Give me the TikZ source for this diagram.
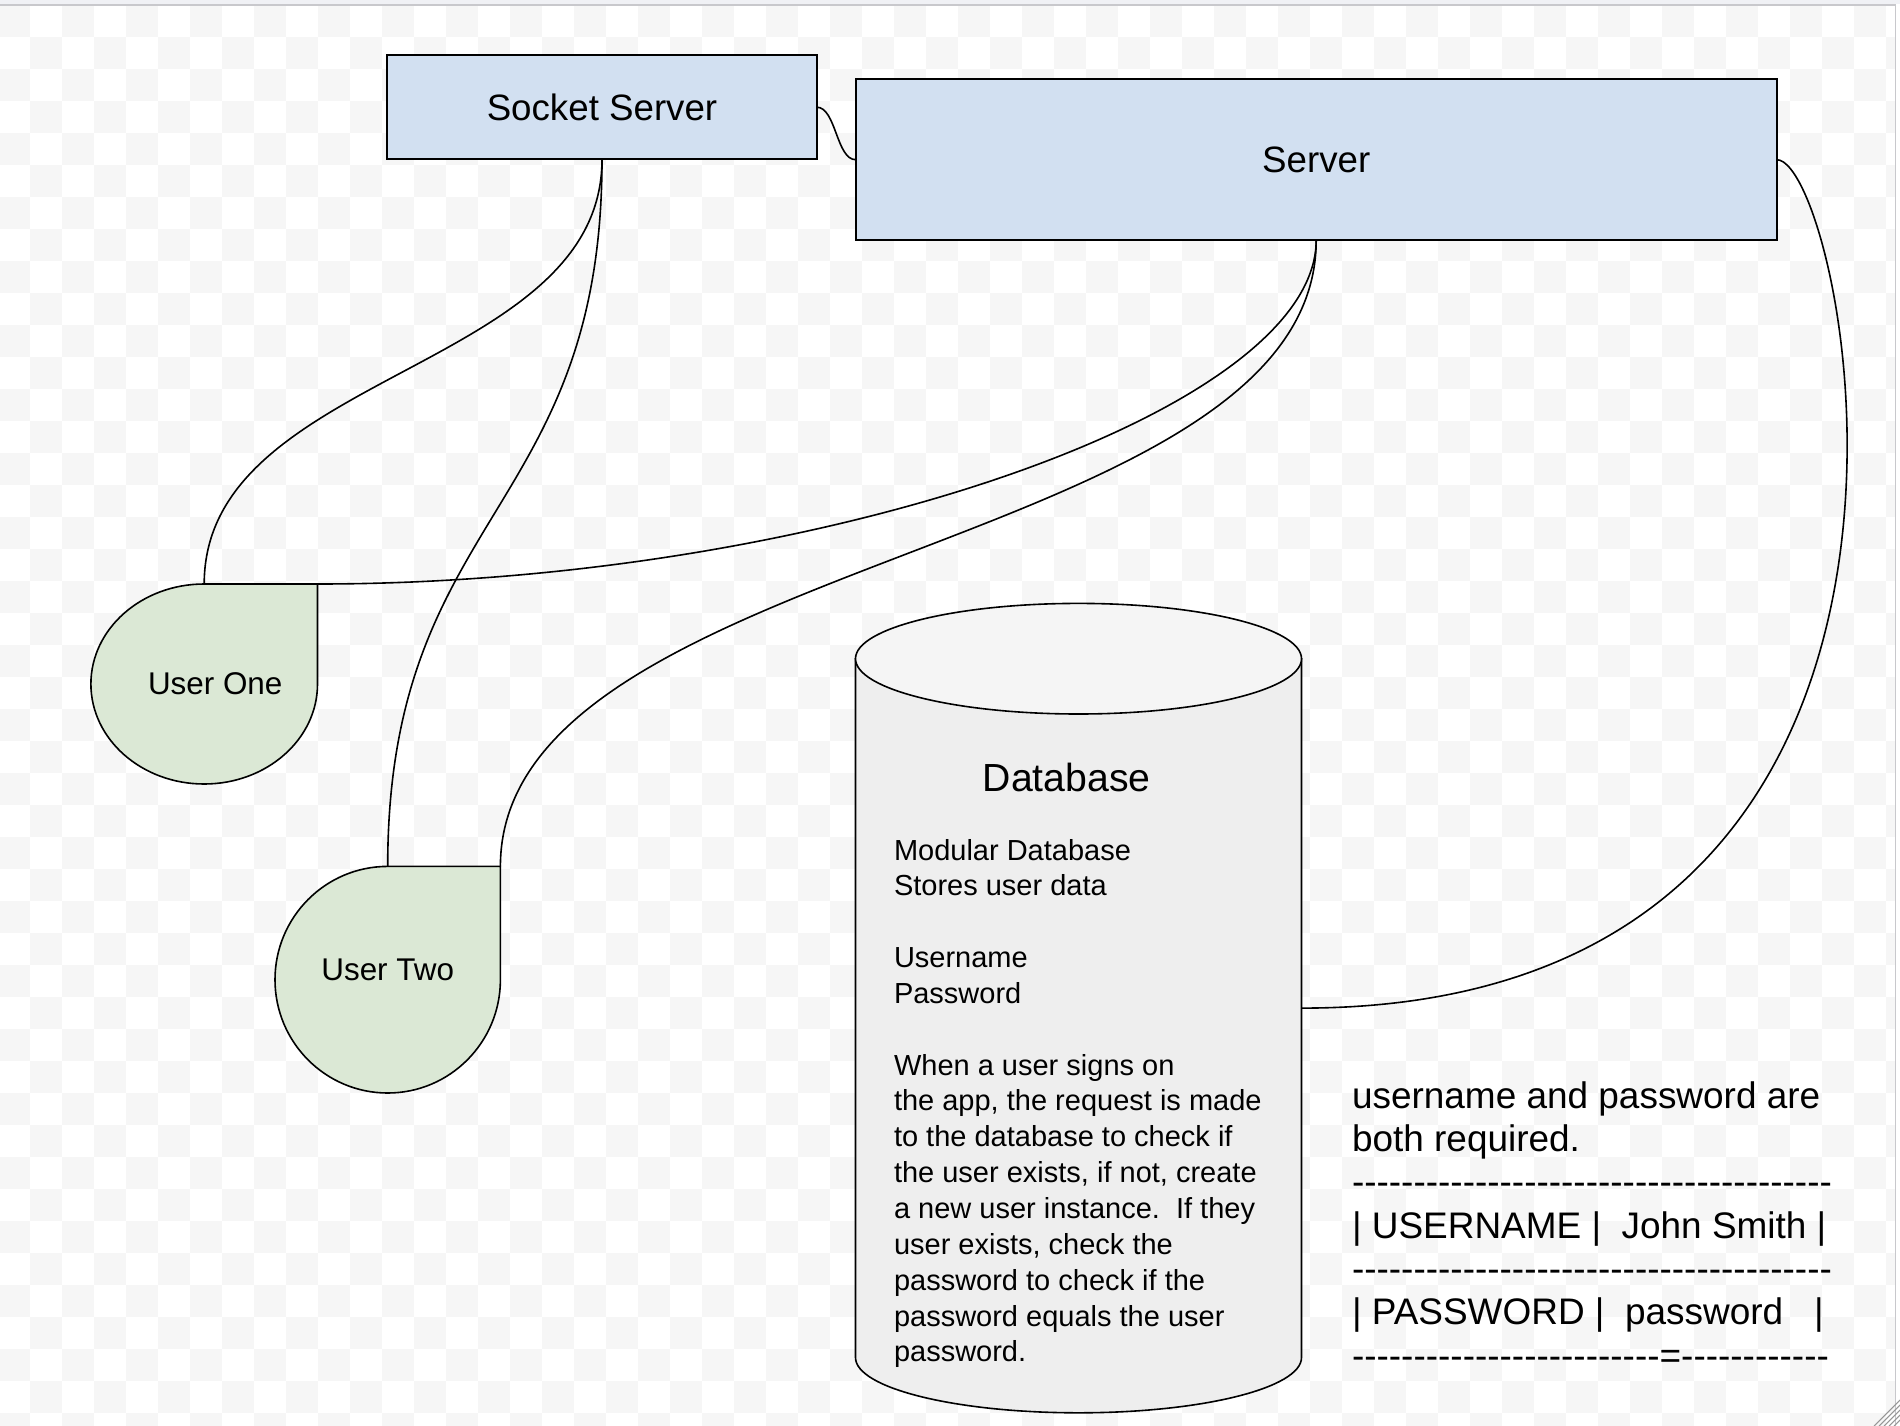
\documentclass[tikz,border=0pt]{standalone}
\usepackage{fontspec}
\setmainfont{Liberation Sans}
\frenchspacing
\pgfdeclarelayer{back}
\pgfsetlayers{back,main}
\definecolor{boxblue}{RGB}{210,224,241}
\definecolor{usergreen}{RGB}{219,232,213}
\definecolor{dbside}{RGB}{238,238,238}
\definecolor{dbtop}{RGB}{245,245,245}
\definecolor{checker}{RGB}{246,246,246}
\definecolor{framegray}{RGB}{200,200,204}
\definecolor{topstrip}{RGB}{240,241,245}
\definecolor{gripgray}{RGB}{150,150,150}
\newcommand\hyps[1]{\ifnum#1>0 -\kern0pt\relax\expandafter\hyps\expandafter{\the\numexpr#1-1\relax}\fi}
\tikzset{
  srvbox/.style={draw=black, line width=2pt, fill=boxblue, inner sep=0pt, outer sep=0pt,
    font=\fontsize{36.7pt}{44pt}\selectfont},
  userhold/.style={inner sep=0pt, outer sep=0pt, font=\fontsize{31.4pt}{38pt}\selectfont},
  usershape/.style={draw=black, line width=1.6pt, fill=usergreen},
  dbshape/.style={draw=black, line width=1.6pt},
  hold/.style={inner sep=0pt, outer sep=0pt},
  bodytext/.style={inner sep=0pt, outer sep=0pt, anchor=base west},
  conn/.style={draw=black, line width=1.6pt},
  checkcell/.style={fill=checker},
  grip/.style={draw=gripgray, line width=1pt}
}
\begin{document}
\begin{tikzpicture}[x=1pt,y=1pt]
\useasboundingbox (0,0) rectangle (1900,-1426);

% background (checkerboard canvas)
\begin{pgfonlayer}{back}
  \fill[white] (0,0) rectangle (1900,-1426);
  \begin{scope}
    \clip (0,-5.3) rectangle (1895,-1426);
    \foreach \j in {0,...,44}{
      \foreach \i in {0,...,59}{
        \ifodd\numexpr\i+\j\relax\else
          \fill[checkcell] (-2+32*\i,-5.3-32*\j) rectangle ++(32,-32);
        \fi
      }
    }
  \end{scope}
  \fill[topstrip] (0,0) rectangle (1900,-4);
  \draw[framegray, line width=1.5pt] (0,-4.8) -- (1895.5,-4.8) -- (1895.5,-1426);
  \foreach \k in {0,...,4}{
    \draw[grip] (1874+5*\k,-1426) -- (1900,-1400-5*\k);
  }
\end{pgfonlayer}

% nodes
\node[srvbox, minimum width=429.4pt, minimum height=104.3pt] (ss) at (602,-107.2) {Socket Server};
\node[srvbox, minimum width=921pt, minimum height=160.7pt] (srv) at (1316.2,-159.7) {Server};
\node[userhold, minimum width=226.6pt, minimum height=200pt] (u1) at (204.2,-684) {\hspace*{22pt}User One};
\node[userhold, minimum width=225.4pt, minimum height=226.6pt] (u2) at (387.7,-979.7) {\raisebox{20.6pt}{User Two}};
\node[hold, minimum width=446pt, minimum height=809.4pt] (db) at (1078.5,-1008.1) {};
\node[hold, anchor=base, font=\fontsize{39.2pt}{46pt}\selectfont] (dbt) at (1066.7,-791.7) {Database};
\node[bodytext, font=\fontsize{29pt}{35.85pt}\selectfont] (dbb) at (894,-860) {%
\begin{tabular}[t]{@{}l@{}}
Modular Database\\
Stores user data\\
\\
Username\\
Password\\
\\
When a user signs on\\
the app, the request is made\\
to the database to check if\\
the user exists, if not, create\\
a new user instance.~~If they\\
user exists, check the\\
password to check if the\\
password equals the user\\
password.
\end{tabular}};
\node[bodytext, font=\fontsize{36.95pt}{43.3pt}\selectfont] (note) at (1352,-1108.3) {%
\begin{tabular}[t]{@{}l@{}}
username and password are\\
both required.\\
\hyps{39}\\
|~USERNAME~|~~John Smith~|\\
\hyps{39}\\
|~PASSWORD~|~~password~~~|\\
\hyps{25}=\hyps{12}
\end{tabular}};

% shapes behind the text
\begin{pgfonlayer}{back}
  \path[usershape] (u1.north) -- (u1.north east) -- (u1.east)
    arc[start angle=0, end angle=-270, x radius=113.3pt, y radius=100pt] -- cycle;
  \path[usershape] (u2.north) -- (u2.north east) -- (u2.east)
    arc[start angle=0, end angle=-270, x radius=112.7pt, y radius=113.3pt] -- cycle;
  \path[dbshape, fill=dbside] (855.5,-658.7) -- (855.5,-1357.5)
    arc[start angle=180, end angle=360, x radius=223pt, y radius=55.3pt]
    -- (1301.5,-658.7) -- cycle;
  \path[dbshape, fill=dbtop] (1078.5,-658.7) ellipse[x radius=223pt, y radius=55.3pt];
\end{pgfonlayer}

% connectors
\draw[conn] (ss.east) to[out=0, in=180, distance=19.4pt] (srv.west);
\draw[conn] (ss.south) to[out=-90, in=90, distance=212.5pt] (u1.north);
\draw[conn] (ss.south) to[out=-90, in=90, distance=353.6pt] (u2.north);
\draw[conn] (srv.south) to[out=-90, in=0, out distance=172pt, in distance=499pt] (u1.north east);
\draw[conn] (srv.south) to[out=-90, in=90, distance=313.4pt] (u2.north east);
\draw[conn] (srv.east) to[out=0, in=0, out distance=70pt, in distance=720pt] (db.east);
\end{tikzpicture}
\end{document}
